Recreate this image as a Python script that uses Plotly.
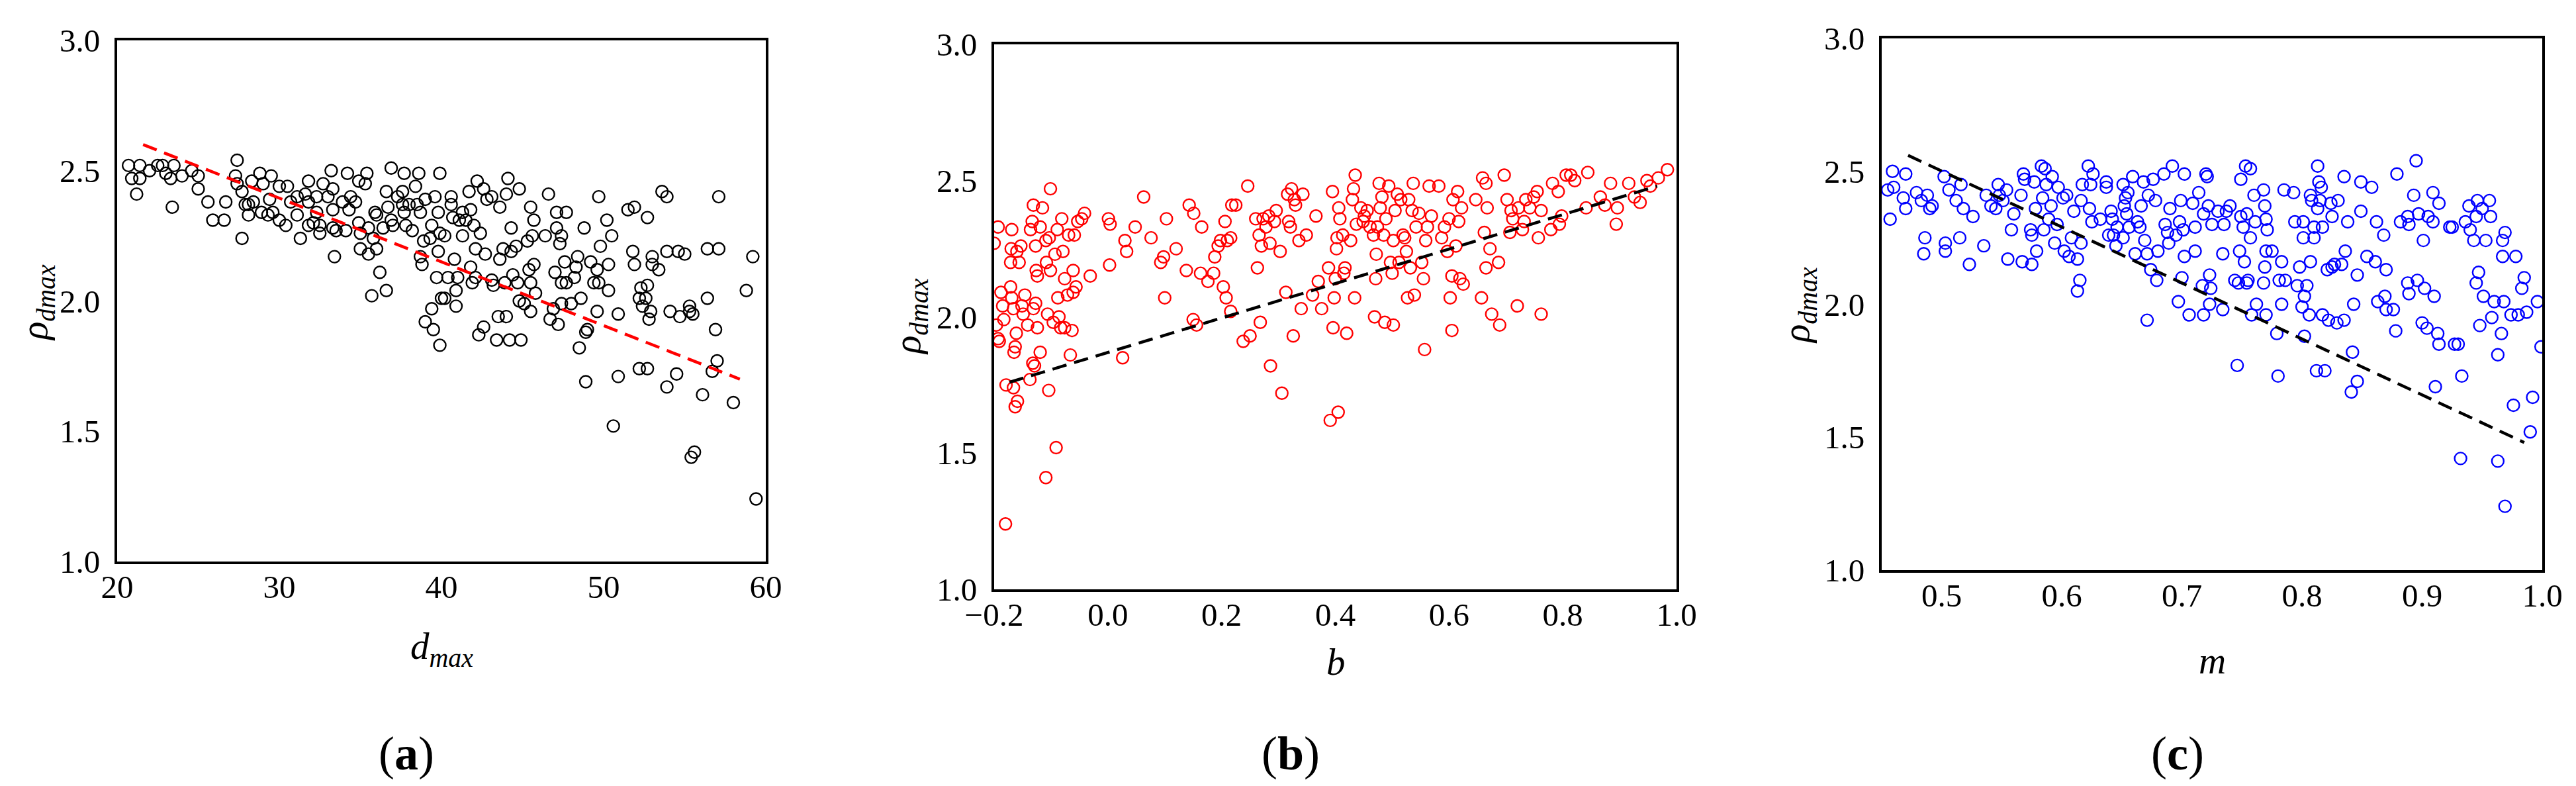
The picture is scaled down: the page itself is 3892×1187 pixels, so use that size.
"""Scatter panels of rho_dmax against d_max, b and m, with linear fit lines."""

import plotly.graph_objects as go

W, H = 3892, 1187

# ---- data: (x, rho_dmax) ----
a_points = [
    (20.7, 2.52), (20.9, 2.47), (21.2, 2.41), (21.4, 2.47), (21.4, 2.52), (22.0, 2.50),
    (22.5, 2.52), (22.8, 2.52), (23.0, 2.49), (23.3, 2.47), (23.4, 2.36), (23.5, 2.52),
    (24.0, 2.48), (24.6, 2.50), (25.0, 2.48), (25.0, 2.43), (25.6, 2.38), (25.9, 2.31),
    (26.6, 2.31), (26.7, 2.38), (27.3, 2.48), (27.4, 2.54), (27.4, 2.45), (27.7, 2.42),
    (27.7, 2.24), (27.9, 2.37), (28.1, 2.33), (28.1, 2.37), (28.3, 2.46), (28.4, 2.38),
    (28.8, 2.49), (28.9, 2.34), (29.0, 2.45), (29.3, 2.33), (29.4, 2.39), (29.5, 2.48),
    (29.6, 2.34), (30.0, 2.31), (30.0, 2.44), (30.4, 2.29), (30.5, 2.44), (30.7, 2.38),
    (31.1, 2.40), (31.1, 2.33), (31.3, 2.24), (31.6, 2.41), (31.8, 2.46), (31.8, 2.29),
    (31.8, 2.38), (32.1, 2.30), (32.3, 2.34), (32.3, 2.40), (32.5, 2.26), (32.5, 2.29),
    (32.7, 2.45), (33.0, 2.40), (33.2, 2.50), (33.3, 2.43), (33.3, 2.35), (33.3, 2.28),
    (33.4, 2.17), (33.5, 2.27), (33.9, 2.38), (34.1, 2.27), (34.2, 2.49), (34.3, 2.35),
    (34.4, 2.40), (34.7, 2.38), (34.9, 2.46), (34.9, 2.30), (35.0, 2.20), (35.0, 2.26),
    (35.3, 2.45), (35.4, 2.49), (35.5, 2.28), (35.5, 2.18), (35.7, 2.02), (35.8, 2.24),
    (35.9, 2.34), (36.0, 2.33), (36.0, 2.20), (36.2, 2.11), (36.4, 2.28), (36.6, 2.04),
    (36.6, 2.42), (36.7, 2.36), (36.9, 2.51), (36.9, 2.31), (37.0, 2.29), (37.3, 2.40),
    (37.6, 2.37), (37.6, 2.42), (37.7, 2.49), (37.7, 2.34), (37.8, 2.29), (38.0, 2.37),
    (38.2, 2.27), (38.4, 2.44), (38.5, 2.37), (38.6, 2.49), (38.7, 2.34), (38.7, 2.17),
    (38.8, 2.14), (38.9, 2.23), (39.0, 1.92), (39.0, 2.39), (39.3, 2.24), (39.4, 2.29),
    (39.4, 1.97), (39.5, 1.89), (39.6, 2.40), (39.7, 2.09), (39.8, 2.34), (39.8, 2.19),
    (39.9, 2.49), (39.9, 2.26), (39.9, 1.83), (40.0, 2.01), (40.2, 2.25), (40.2, 2.01),
    (40.4, 2.09), (40.6, 2.40), (40.6, 2.37), (40.7, 2.32), (40.8, 2.16), (40.9, 1.98),
    (40.9, 2.04), (41.0, 2.09), (41.1, 2.31), (41.3, 2.34), (41.3, 2.25), (41.5, 2.31),
    (41.7, 2.42), (41.8, 2.35), (41.8, 2.13), (41.9, 2.07), (42.0, 2.29), (42.1, 2.20),
    (42.1, 2.09), (42.2, 2.46), (42.3, 1.87), (42.4, 2.26), (42.6, 1.90), (42.6, 2.43),
    (42.7, 2.18), (42.8, 2.39), (43.1, 2.08), (43.1, 2.40), (43.2, 2.06), (43.4, 1.85),
    (43.5, 1.94), (43.6, 2.36), (43.6, 2.16), (43.8, 2.20), (43.9, 2.07), (44.0, 2.41),
    (44.0, 1.94), (44.1, 2.47), (44.2, 1.85), (44.3, 2.28), (44.3, 2.19), (44.4, 2.10),
    (44.6, 2.21), (44.7, 2.07), (44.8, 2.00), (44.8, 2.43), (44.9, 1.85), (45.1, 1.99),
    (45.3, 2.23), (45.4, 2.12), (45.5, 2.07), (45.5, 1.96), (45.5, 2.36), (45.6, 2.25),
    (45.7, 2.31), (45.7, 2.14), (45.8, 2.03), (46.4, 2.25), (46.6, 2.41), (46.7, 1.93),
    (46.9, 1.97), (47.0, 2.11), (47.1, 2.34), (47.1, 2.28), (47.2, 1.91), (47.3, 2.22),
    (47.4, 2.07), (47.4, 1.99), (47.4, 2.25), (47.6, 2.15), (47.7, 2.34), (47.7, 2.07),
    (48.0, 1.99), (48.2, 2.09), (48.3, 2.13), (48.4, 2.17), (48.5, 1.82), (48.6, 2.01),
    (48.8, 2.28), (48.9, 1.88), (48.9, 1.69), (49.0, 1.89), (49.2, 2.15), (49.4, 2.07),
    (49.6, 2.12), (49.6, 1.96), (49.7, 2.07), (49.7, 2.40), (49.8, 2.21), (50.2, 2.31),
    (50.3, 2.14), (50.3, 2.04), (50.5, 2.25), (50.6, 1.52), (50.9, 1.71), (50.9, 1.95),
    (51.5, 2.35), (51.9, 2.36), (51.8, 2.19), (51.9, 2.14), (52.2, 1.74), (52.2, 2.01),
    (52.3, 2.05), (52.4, 1.98), (52.6, 2.01), (52.7, 2.32), (52.7, 1.74), (52.7, 2.06),
    (52.8, 1.93), (52.9, 1.96), (53.0, 2.17), (53.0, 2.14), (53.4, 2.12), (53.6, 2.42),
    (53.9, 2.40), (53.9, 2.19), (53.9, 1.67), (54.1, 1.96), (54.5, 1.72), (54.6, 2.19),
    (54.7, 1.94), (55.0, 2.18), (55.3, 1.96), (55.3, 1.98), (55.4, 1.40), (55.6, 1.42),
    (55.5, 1.95), (56.1, 1.64), (56.4, 2.01), (56.4, 2.20), (56.7, 1.73), (56.9, 1.89),
    (57.0, 1.77), (57.1, 2.20), (57.1, 2.40), (58.0, 1.61), (58.8, 2.04), (59.2, 2.17),
    (59.4, 1.24),
]

b_points = [
    (-0.200, 2.27), (-0.193, 2.33), (-0.196, 1.97), (-0.193, 1.92), (-0.191, 1.91),
    (-0.188, 2.09), (-0.185, 2.04), (-0.183, 1.99), (-0.179, 1.75), (-0.169, 2.32),
    (-0.171, 2.20), (-0.170, 2.25), (-0.171, 2.11), (-0.169, 2.07), (-0.166, 2.03),
    (-0.165, 1.87), (-0.163, 1.89), (-0.166, 1.74), (-0.163, 1.67), (-0.159, 1.69),
    (-0.161, 1.94), (-0.160, 2.24), (-0.156, 2.20), (-0.153, 2.26), (-0.151, 2.04),
    (-0.149, 2.01), (-0.146, 2.08), (-0.141, 1.97), (-0.137, 1.77), (-0.136, 2.32),
    (-0.133, 2.35), (-0.131, 2.41), (-0.132, 1.83), (-0.129, 1.82), (-0.131, 2.03),
    (-0.127, 2.05), (-0.126, 2.17), (-0.127, 2.26), (-0.124, 2.15), (-0.124, 1.96),
    (-0.119, 1.87), (-0.119, 2.33), (-0.115, 2.40), (-0.109, 2.28), (-0.109, 1.41),
    (-0.108, 2.20), (-0.106, 2.01), (-0.104, 1.73), (-0.103, 2.29), (-0.101, 2.47),
    (-0.101, 2.17), (-0.096, 1.98), (-0.093, 2.23), (-0.091, 1.52), (-0.089, 2.32),
    (-0.088, 2.07), (-0.086, 2.00), (-0.083, 1.96), (-0.081, 2.36), (-0.079, 2.24),
    (-0.076, 2.14), (-0.076, 1.96), (-0.071, 2.08), (-0.069, 2.30), (-0.066, 1.86),
    (-0.063, 1.95), (-0.061, 2.09), (-0.061, 2.17), (-0.059, 2.30), (-0.056, 2.11),
    (-0.053, 2.35), (-0.046, 2.36), (-0.041, 2.38), (-0.031, 2.15), (0.001, 2.36),
    (0.004, 2.34), (0.003, 2.19), (0.026, 1.85), (0.030, 2.28), (0.033, 2.24),
    (0.048, 2.33), (0.063, 2.44), (0.076, 2.29), (0.093, 2.20), (0.098, 2.22),
    (0.100, 2.07), (0.103, 2.36), (0.120, 2.25), (0.138, 2.17), (0.143, 2.41),
    (0.150, 1.99), (0.151, 2.38), (0.156, 1.97), (0.163, 2.16), (0.165, 2.33),
    (0.176, 2.13), (0.186, 2.16), (0.188, 2.22), (0.194, 2.26), (0.198, 2.28),
    (0.203, 2.11), (0.206, 2.35), (0.208, 2.07), (0.210, 2.28), (0.216, 2.29),
    (0.216, 2.02), (0.218, 2.41), (0.225, 2.41), (0.238, 1.91), (0.246, 2.48),
    (0.250, 1.93), (0.260, 2.36), (0.263, 2.18), (0.266, 2.30), (0.268, 1.98),
    (0.270, 2.26), (0.273, 2.36), (0.278, 2.33), (0.283, 2.37), (0.285, 2.27),
    (0.286, 1.82), (0.293, 2.35), (0.296, 2.39), (0.303, 2.24), (0.306, 1.72),
    (0.313, 2.09), (0.316, 2.45), (0.318, 2.35), (0.321, 2.33), (0.323, 2.47),
    (0.326, 1.93), (0.328, 2.43), (0.330, 2.41), (0.336, 2.28), (0.340, 2.03),
    (0.343, 2.45), (0.349, 2.30), (0.360, 2.08), (0.366, 2.37), (0.370, 2.13),
    (0.376, 2.03), (0.388, 2.18), (0.391, 1.62), (0.395, 2.46), (0.396, 1.96),
    (0.398, 2.07), (0.400, 2.14), (0.402, 2.25), (0.403, 2.29), (0.405, 1.65),
    (0.406, 2.40), (0.408, 2.36), (0.413, 2.30), (0.415, 2.16), (0.417, 2.18),
    (0.420, 1.94), (0.427, 2.28), (0.430, 2.43), (0.432, 2.47), (0.434, 2.07),
    (0.435, 2.52), (0.437, 2.34), (0.445, 2.40), (0.449, 2.35), (0.451, 2.37),
    (0.456, 2.39), (0.461, 2.33), (0.467, 2.30), (0.469, 2.00), (0.471, 2.14),
    (0.472, 2.23), (0.474, 2.33), (0.477, 2.49), (0.479, 2.40), (0.482, 2.44),
    (0.485, 2.30), (0.487, 1.98), (0.489, 2.36), (0.494, 2.48), (0.497, 2.20),
    (0.500, 2.16), (0.502, 2.28), (0.502, 1.97), (0.505, 2.39), (0.509, 2.45),
    (0.512, 2.20), (0.515, 2.43), (0.519, 2.30), (0.522, 2.29), (0.525, 2.24),
    (0.527, 2.07), (0.529, 2.43), (0.532, 2.18), (0.535, 2.39), (0.537, 2.49),
    (0.539, 2.08), (0.542, 2.33), (0.547, 2.38), (0.552, 2.20), (0.555, 2.14),
    (0.557, 1.88), (0.559, 2.28), (0.562, 2.33), (0.565, 2.48), (0.569, 2.37),
    (0.582, 2.48), (0.587, 2.29), (0.592, 2.33), (0.597, 2.24), (0.600, 2.36),
    (0.602, 2.07), (0.605, 2.15), (0.605, 1.95), (0.607, 2.43), (0.612, 2.26),
    (0.615, 2.46), (0.617, 2.35), (0.619, 2.14), (0.622, 2.40), (0.625, 2.12),
    (0.647, 2.43), (0.657, 2.07), (0.659, 2.51), (0.662, 2.31), (0.665, 2.49),
    (0.665, 2.18), (0.667, 2.40), (0.672, 2.25), (0.675, 2.01), (0.687, 2.20),
    (0.689, 1.97), (0.697, 2.52), (0.702, 2.43), (0.707, 2.31), (0.709, 2.39),
    (0.712, 2.36), (0.720, 2.04), (0.722, 2.40), (0.729, 2.32), (0.732, 2.35),
    (0.735, 2.43), (0.742, 2.40), (0.749, 2.44), (0.755, 2.46), (0.757, 2.29),
    (0.762, 2.39), (0.762, 2.01), (0.779, 2.32), (0.782, 2.49), (0.792, 2.46),
    (0.794, 2.34), (0.798, 2.37), (0.806, 2.52), (0.814, 2.52), (0.821, 2.50),
    (0.841, 2.40), (0.844, 2.53), (0.866, 2.44), (0.874, 2.41), (0.884, 2.49),
    (0.894, 2.34), (0.896, 2.40), (0.916, 2.49), (0.926, 2.44), (0.936, 2.42),
    (0.948, 2.50), (0.954, 2.48), (0.968, 2.51), (0.984, 2.54), (-0.180, 1.24),
]

c_points = [
    (0.455, 2.43), (0.457, 2.32), (0.459, 2.50), (0.460, 2.44), (0.468, 2.40), (0.470, 2.49),
    (0.470, 2.36), (0.479, 2.42), (0.483, 2.39), (0.485, 2.19), (0.486, 2.25), (0.488, 2.41),
    (0.490, 2.36), (0.492, 2.37), (0.502, 2.48), (0.503, 2.23), (0.503, 2.20), (0.506, 2.43),
    (0.512, 2.39), (0.515, 2.25), (0.516, 2.45), (0.518, 2.36), (0.523, 2.15), (0.526, 2.33),
    (0.535, 2.22), (0.537, 2.41), (0.541, 2.37), (0.545, 2.36), (0.547, 2.45), (0.548, 2.41),
    (0.551, 2.39), (0.554, 2.43), (0.555, 2.17), (0.558, 2.28), (0.560, 2.34), (0.566, 2.41),
    (0.567, 2.16), (0.568, 2.49), (0.569, 2.47), (0.575, 2.15), (0.575, 2.26), (0.574, 2.28),
    (0.577, 2.46), (0.578, 2.36), (0.579, 2.20), (0.583, 2.52), (0.584, 2.40), (0.585, 2.28),
    (0.586, 2.51), (0.587, 2.45), (0.589, 2.32), (0.591, 2.37), (0.592, 2.48), (0.594, 2.23),
    (0.596, 2.30), (0.597, 2.44), (0.601, 2.40), (0.604, 2.41), (0.602, 2.20), (0.606, 2.18),
    (0.608, 2.25), (0.610, 2.35), (0.613, 2.17), (0.613, 2.05), (0.615, 2.09), (0.616, 2.23),
    (0.616, 2.39), (0.617, 2.45), (0.622, 2.52), (0.623, 2.36), (0.624, 2.45), (0.625, 2.31),
    (0.626, 2.49), (0.632, 2.32), (0.637, 2.46), (0.637, 2.44), (0.639, 2.26), (0.641, 2.35),
    (0.642, 2.32), (0.643, 2.26), (0.645, 2.22), (0.646, 2.29), (0.651, 2.25), (0.651, 2.45),
    (0.652, 2.37), (0.653, 2.40), (0.654, 2.34), (0.655, 2.42), (0.656, 2.29), (0.659, 2.48),
    (0.661, 2.19), (0.663, 2.31), (0.665, 2.29), (0.666, 2.37), (0.668, 2.46), (0.669, 2.24),
    (0.671, 1.94), (0.671, 2.19), (0.672, 2.41), (0.674, 2.13), (0.676, 2.47), (0.678, 2.39),
    (0.679, 2.09), (0.680, 2.20), (0.685, 2.49), (0.686, 2.30), (0.688, 2.27), (0.689, 2.23),
    (0.690, 2.36), (0.692, 2.52), (0.695, 2.26), (0.697, 2.01), (0.698, 2.31), (0.699, 2.39),
    (0.700, 2.10), (0.701, 2.28), (0.702, 2.49), (0.702, 2.18), (0.706, 1.96), (0.709, 2.38),
    (0.711, 2.29), (0.711, 2.20), (0.714, 2.42), (0.717, 2.07), (0.718, 1.96), (0.718, 2.34),
    (0.720, 2.49), (0.721, 2.48), (0.722, 2.37), (0.723, 2.00), (0.723, 2.11), (0.724, 2.06),
    (0.725, 2.30), (0.730, 2.35), (0.734, 1.98), (0.734, 2.19), (0.735, 2.30), (0.737, 2.35),
    (0.740, 2.37), (0.744, 2.09), (0.746, 1.77), (0.747, 2.08), (0.748, 2.20), (0.749, 2.33),
    (0.749, 2.47), (0.751, 2.29), (0.752, 2.16), (0.753, 2.52), (0.754, 2.34), (0.754, 2.08),
    (0.755, 2.09), (0.757, 2.25), (0.757, 2.51), (0.758, 1.96), (0.760, 2.41), (0.761, 2.31),
    (0.762, 2.00), (0.768, 2.43), (0.768, 2.08), (0.769, 2.14), (0.769, 2.37), (0.770, 2.20),
    (0.770, 2.32), (0.771, 2.28), (0.770, 1.96), (0.775, 2.20), (0.779, 1.89), (0.780, 1.73),
    (0.781, 2.09), (0.783, 2.16), (0.783, 2.00), (0.785, 2.43), (0.786, 2.09), (0.793, 2.42),
    (0.794, 2.31), (0.796, 2.07), (0.798, 2.14), (0.800, 1.99), (0.801, 2.31), (0.801, 2.25),
    (0.802, 2.03), (0.802, 1.88), (0.804, 2.07), (0.806, 1.96), (0.807, 2.16), (0.807, 2.41),
    (0.808, 2.39), (0.810, 2.29), (0.810, 2.25), (0.812, 1.75), (0.813, 2.52), (0.813, 2.36),
    (0.814, 2.46), (0.815, 2.39), (0.816, 2.44), (0.817, 2.29), (0.817, 1.96), (0.819, 1.75),
    (0.821, 2.13), (0.822, 1.94), (0.824, 2.38), (0.825, 2.14), (0.825, 2.33), (0.827, 2.15),
    (0.829, 1.93), (0.830, 2.39), (0.833, 2.15), (0.835, 1.94), (0.835, 2.48), (0.836, 2.20),
    (0.838, 2.31), (0.841, 1.67), (0.842, 1.82), (0.843, 2.00), (0.846, 1.71), (0.846, 2.11),
    (0.849, 2.46), (0.849, 2.35), (0.854, 2.18), (0.858, 2.44), (0.861, 2.16), (0.862, 2.31),
    (0.863, 2.01), (0.868, 2.26), (0.869, 2.03), (0.870, 2.13), (0.870, 1.98), (0.876, 1.98),
    (0.878, 1.90), (0.879, 2.49), (0.882, 2.31), (0.888, 2.08), (0.888, 2.33), (0.889, 2.04),
    (0.889, 2.30), (0.893, 2.41), (0.895, 2.54), (0.896, 2.09), (0.897, 2.34), (0.900, 1.93),
    (0.901, 2.24), (0.902, 2.06), (0.904, 1.91), (0.905, 2.33), (0.909, 2.31), (0.909, 2.42),
    (0.910, 2.03), (0.911, 1.69), (0.913, 1.89), (0.914, 2.38), (0.914, 1.85), (0.923, 2.29),
    (0.925, 2.29), (0.927, 1.85), (0.930, 1.85), (0.932, 1.42), (0.933, 1.73), (0.936, 2.31),
    (0.939, 2.37), (0.940, 2.28), (0.943, 2.24), (0.945, 2.08), (0.945, 2.33), (0.946, 2.39),
    (0.947, 2.12), (0.948, 1.92), (0.950, 2.36), (0.951, 2.03), (0.953, 2.24), (0.956, 2.39),
    (0.957, 2.33), (0.958, 1.95), (0.960, 2.01), (0.963, 1.81), (0.963, 1.41), (0.966, 1.89),
    (0.967, 2.18), (0.967, 2.24), (0.968, 2.01), (0.969, 2.27), (0.969, 1.24), (0.974, 1.96),
    (0.976, 1.62), (0.978, 2.18), (0.980, 1.96), (0.983, 2.06), (0.985, 2.10), (0.987, 1.97),
    (0.990, 1.52), (0.992, 1.65), (0.996, 2.01), (0.999, 1.84),
]

# fitted trend lines (end points)
fit_a_x = [21.6, 58.4]
fit_a_y = [2.60, 1.70]
fit_b_x = [-0.173, 0.966]
fit_b_y = [1.76, 2.48]
fit_c_x = [0.472, 0.985]
fit_c_y = [2.56, 1.48]

y_ticks = [1.0, 1.5, 2.0, 2.5, 3.0]
a_ticks = [20, 30, 40, 50, 60]
b_ticks = [-0.2, 0.0, 0.2, 0.4, 0.6, 0.8, 1.0]
c_ticks = [0.5, 0.6, 0.7, 0.8, 0.9, 1.0]

FONT = "Liberation Serif, Times New Roman, serif"
TICK_SIZE = 49
TITLE_SIZE = 57
LABEL_SIZE = 72

# plot boxes in pixels: (left, right, top, bottom)
boxes = {
    "a": (169, 1149, 53, 840),
    "b": (1494, 2525, 59, 882),
    "c": (2835, 3833, 50, 853),
}


def px_x(v):
    return v / W


def px_y(v):
    return 1 - v / H


def split(points):
    return [p[0] for p in points], [p[1] for p in points]


fig = go.Figure()
fig.layout.template = "none"

panels = [
    ("a", a_points, "black", fit_a_x, fit_a_y, "red", [20, 60], a_ticks, "%.0f"),
    ("b", b_points, "red", fit_b_x, fit_b_y, "black", [-0.2, 1.0], b_ticks, "%.1f"),
    ("c", c_points, "blue", fit_c_x, fit_c_y, "black", [0.45, 1.0], c_ticks, "%.1f"),
]

for i, (key, pts, mcol, fx, fy, lcol, xr, xt, fmt) in enumerate(panels, start=1):
    sfx = "" if i == 1 else str(i)
    xs, ys = split(pts)
    fig.add_trace(go.Scatter(
        x=xs, y=ys, mode="markers", xaxis="x" + sfx, yaxis="y" + sfx,
        marker=dict(symbol="circle-open", size=18, color=mcol, line=dict(width=2.4, color=mcol)),
        showlegend=False, hoverinfo="skip",
    ))
    fig.add_trace(go.Scatter(
        x=fx, y=fy, mode="lines", xaxis="x" + sfx, yaxis="y" + sfx,
        line=dict(color=lcol, width=4.5, dash="22px,12px"),
        showlegend=False, hoverinfo="skip",
    ))

    l, r, t, b = boxes[key]
    axis_common = dict(
        showline=True, mirror=True, linecolor="black", linewidth=4,
        showgrid=False, zeroline=False, ticks="", automargin=False,
        tickfont=dict(family=FONT, size=TICK_SIZE, color="black"),
    )
    fig.layout["xaxis" + sfx] = dict(
        axis_common, domain=[px_x(l), px_x(r)], range=xr, anchor="y" + sfx,
        tickvals=xt, ticktext=[(fmt % v).replace("-", "\u2212") for v in xt],
        ticklabelstandoff=-8,
    )
    fig.layout["yaxis" + sfx] = dict(
        axis_common, domain=[px_y(b), px_y(t)], range=[1.0, 3.0], anchor="x" + sfx,
        tickvals=y_ticks, ticktext=["%.1f" % v for v in y_ticks],
        ticklabelstandoff=12,
    )

# axis titles and panel labels as annotations (pixel positions)
ann = []
x_titles = [
    ("<i>d</i><sub><i>max</i></sub>", 659, 972),
    ("<i>b</i>", 2010, 992),
    ("<i>m</i>", 3334, 990),
]
for txt, x, y in x_titles:
    ann.append(dict(text=txt, x=px_x(x), y=px_y(y), xref="paper", yref="paper",
                    xanchor="center", yanchor="middle", showarrow=False,
                    font=dict(family=FONT, size=TITLE_SIZE, color="black")))

y_titles = [(48, 449), (1367, 470), (2710, 453)]
for x, y in y_titles:
    ann.append(dict(text="<i>\u03c1</i><sub><i>dmax</i></sub>", x=px_x(x), y=px_y(y),
                    xref="paper", yref="paper", xanchor="center", yanchor="middle",
                    textangle=-90, showarrow=False,
                    font=dict(family=FONT, size=TITLE_SIZE, color="black")))

panel_labels = [("a", 606), ("b", 1942), ("c", 3282)]
for letter, x in panel_labels:
    ann.append(dict(text="(<b>%s</b>)" % letter, x=px_x(x), y=px_y(1130),
                    xref="paper", yref="paper", xanchor="center", yanchor="middle",
                    showarrow=False,
                    font=dict(family=FONT, size=LABEL_SIZE, color="black")))

fig.update_layout(
    width=W, height=H,
    margin=dict(l=0, r=0, t=0, b=0, pad=0),
    paper_bgcolor="white", plot_bgcolor="white",
    annotations=ann,
    showlegend=False,
)

fig.write_html("out.html")
